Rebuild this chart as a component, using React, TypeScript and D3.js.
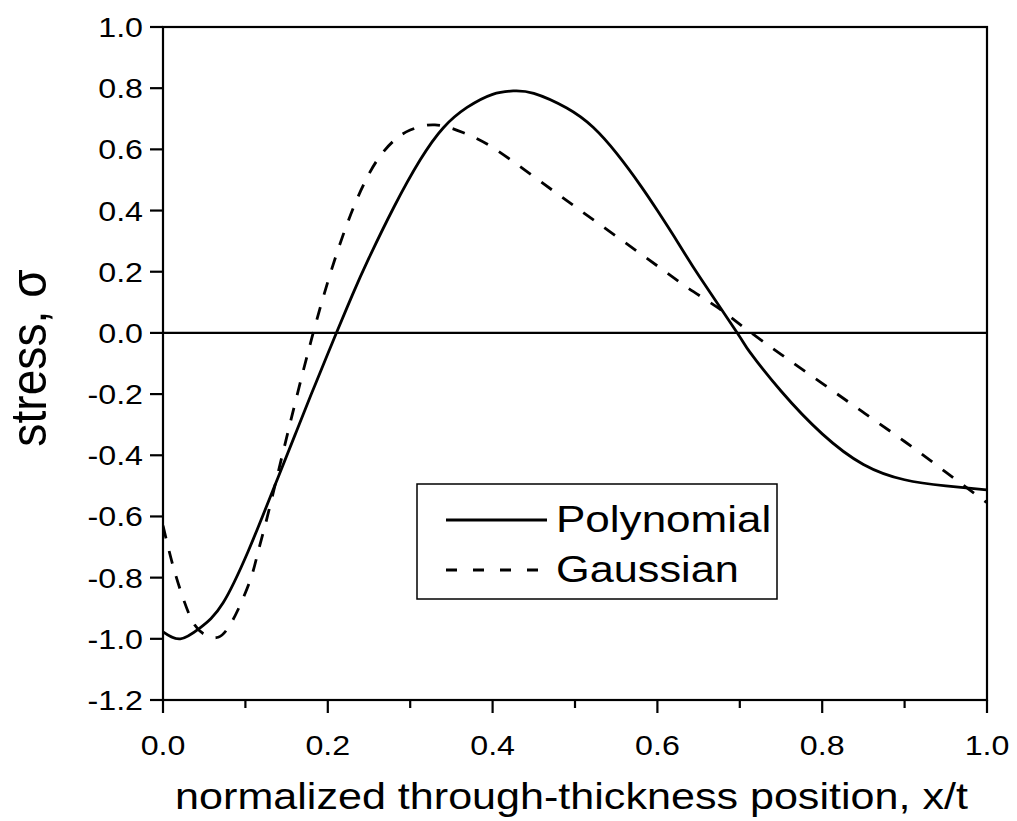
import React from "react";
import * as d3 from "d3";

const polyX = [0, 0.021, 0.045, 0.073, 0.103, 0.12, 0.14, 0.16, 0.18, 0.2, 0.21, 0.23, 0.25, 0.28, 0.312, 0.34, 0.369, 0.4, 0.425, 0.45, 0.49, 0.522, 0.551, 0.58, 0.6, 0.625, 0.652, 0.697, 0.712, 0.75, 0.8, 0.85, 0.9, 0.95, 1.0];
const polyY = [-0.977, -1.0, -0.964, -0.882, -0.716, -0.605, -0.47, -0.335, -0.2, -0.068, -0.003, 0.125, 0.245, 0.41, 0.565, 0.67, 0.737, 0.78, 0.791, 0.783, 0.735, 0.672, 0.585, 0.48, 0.4, 0.295, 0.18, 0.0, -0.062, -0.19, -0.33, -0.43, -0.48, -0.5, -0.513];

const gaussX = [0, 0.011, 0.023, 0.036, 0.05, 0.067, 0.08, 0.091, 0.106, 0.115, 0.125, 0.14, 0.16, 0.18, 0.2, 0.22, 0.24, 0.26, 0.28, 0.3, 0.33, 0.364, 0.399, 0.45, 0.5, 0.55, 0.6, 0.637, 0.672, 0.706, 0.75, 0.8, 0.85, 0.9, 0.95, 1.0];
const gaussY = [-0.63, -0.75, -0.856, -0.944, -0.985, -0.995, -0.96, -0.905, -0.807, -0.72, -0.618, -0.453, -0.233, -0.023, 0.167, 0.331, 0.465, 0.565, 0.628, 0.663, 0.68, 0.655, 0.608, 0.511, 0.413, 0.316, 0.219, 0.147, 0.085, 0.016, -0.07, -0.165, -0.26, -0.355, -0.455, -0.555];

const xTicks = [0, 0.2, 0.4, 0.6, 0.8, 1.0];
const xMinorTicks = [0.1, 0.3, 0.5, 0.7, 0.9];
const yTicks = [1.0, 0.8, 0.6, 0.4, 0.2, 0.0, -0.2, -0.4, -0.6, -0.8, -1.0, -1.2];

const seriesNames = ["Polynomial", "Gaussian"];

const FONT = "'Liberation Sans', Arial, sans-serif";

function SText(props: { x: number; y: number; size: number; sx?: number; anchor?: string; children: React.ReactNode }) {
  const { x, y, size, sx = 1.15, anchor = "start" } = props;
  return (
    <g transform={`translate(${x},${y}) scale(${sx},1)`}>
      <text x={0} y={0} textAnchor={anchor} fontSize={size}>{props.children}</text>
    </g>
  );
}

export default function App() {
  const W = 1017, H = 821;
  const left = 163, right = 987, top = 27, bottom = 700;
  const x = d3.scaleLinear().domain([0, 1]).range([left, right]);
  const y = d3.scaleLinear().domain([-1.2, 1.0]).range([bottom, top]);

  const line = d3.line<[number, number]>()
    .x((d) => x(d[0]))
    .y((d) => y(d[1]))
    .curve(d3.curveNatural);

  const polyPts: [number, number][] = polyX.map((v, i) => [v, polyY[i]]);
  const gaussPts: [number, number][] = gaussX.map((v, i) => [v, gaussY[i]]);

  const fmt = (v: number) => v.toFixed(1);

  return (
    <svg width={W} height={H} style={{ position: "absolute", left: 0, top: 0, background: "#fff" }} fontFamily={FONT}>
      <rect x={0} y={0} width={W} height={H} fill="#fff" />
      <defs>
        <clipPath id="plot">
          <rect x={left} y={top} width={right - left} height={bottom - top} />
        </clipPath>
      </defs>
      <line x1={left} x2={right} y1={y(0)} y2={y(0)} stroke="#000" strokeWidth={2.2} />
      <g clipPath="url(#plot)">
        <path d={line(polyPts) || ""} fill="none" stroke="#000" strokeWidth={2.8} />
        <path d={line(gaussPts) || ""} fill="none" stroke="#000" strokeWidth={2.8} strokeDasharray="13,13" />
      </g>
      <rect x={left} y={top} width={right - left} height={bottom - top} fill="none" stroke="#000" strokeWidth={2.2} />
      {yTicks.map((t) => (
        <g key={"y" + t}>
          <line x1={left - 13} x2={left} y1={y(t)} y2={y(t)} stroke="#000" strokeWidth={2.2} />
          <SText x={left - 20} y={y(t) + 10} size={28} anchor="end">{fmt(t)}</SText>
        </g>
      ))}
      {xTicks.map((t) => (
        <g key={"x" + t}>
          <line x1={x(t)} x2={x(t)} y1={bottom} y2={bottom + 13} stroke="#000" strokeWidth={2.2} />
          <SText x={x(t)} y={bottom + 55} size={28} anchor="middle">{fmt(t)}</SText>
        </g>
      ))}
      {xMinorTicks.map((t) => (
        <line key={"xm" + t} x1={x(t)} x2={x(t)} y1={bottom} y2={bottom + 8} stroke="#000" strokeWidth={2.2} />
      ))}
      <SText x={(178 + 965) / 2} y={809} size={37} sx={1.165} anchor="middle">normalized through-thickness position, x/t</SText>
      <g transform="translate(46,358) rotate(-90)">
        <text x={0} y={0} textAnchor="middle" fontSize={44} transform="scale(1.05,1.15)">stress, σ</text>
      </g>
      <rect x={417} y={484} width={360} height={115} fill="#fff" stroke="#000" strokeWidth={1.5} />
      <line x1={446} x2={547} y1={520} y2={520} stroke="#000" strokeWidth={2.8} />
      <line x1={446} x2={539} y1={570} y2={570} stroke="#000" strokeWidth={2.8} strokeDasharray="11,16" />
      <SText x={556} y={532} size={37} sx={1.19}>{seriesNames[0]}</SText>
      <SText x={556} y={582} size={37} sx={1.17}>{seriesNames[1]}</SText>
    </svg>
  );
}
